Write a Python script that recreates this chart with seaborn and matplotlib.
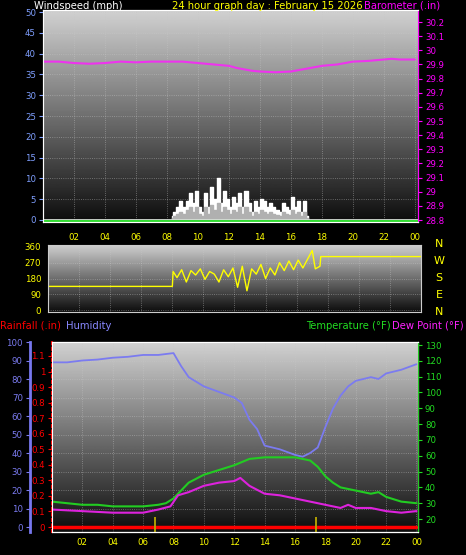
import numpy as np
import pandas as pd
import matplotlib
matplotlib.use("Agg")
import matplotlib.pyplot as plt
import seaborn as sns

sns.set_style("dark")
plt.rcParams['font.family'] = ['DejaVu Sans']

# ---- data (hours of day) ----
baro_hours = [0, 1, 2, 3, 4, 5, 6, 7, 8, 9, 10, 11, 12, 12.5, 13, 13.5, 14, 15, 16, 16.5, 17, 18, 19, 20, 21, 22, 22.5, 23, 24]
baro_vals = [29.92, 29.92, 29.91, 29.905, 29.91, 29.92, 29.915, 29.92, 29.92, 29.92, 29.91, 29.90, 29.89, 29.875, 29.865,
             29.855, 29.85, 29.845, 29.85, 29.86, 29.87, 29.89, 29.90, 29.92, 29.925, 29.935, 29.94, 29.935, 29.935]

wind_hours = [8.3, 8.5, 8.7, 8.9, 9.1, 9.3, 9.5, 9.7, 9.9, 10.1, 10.3, 10.5, 10.7, 10.9, 11.1, 11.3, 11.5, 11.7, 11.9,
              12.1, 12.3, 12.5, 12.7, 12.9, 13.1, 13.3, 13.5, 13.7, 13.9, 14.1, 14.3, 14.5, 14.7, 14.9, 15.1, 15.3,
              15.5, 15.7, 15.9, 16.1, 16.3, 16.5, 16.7, 16.9, 17.1]
wind_gust = [1, 2, 3, 4.5, 3, 4.5, 6.5, 4, 7, 3, 2, 6.5, 3, 8, 5, 10, 4, 7, 5, 3, 5.5, 4, 6.5, 3, 7, 4, 2, 4.5, 3,
             5, 4.5, 3, 4, 3, 2.5, 2, 4, 3, 2.5, 5.5, 3, 4.5, 2, 4.5, 1]
wind_avg = [0.5, 1, 1.5, 2, 1.5, 2.5, 3, 2, 3, 1.5, 1, 3, 1.5, 3.5, 2.5, 4, 2, 3, 2.5, 1.5, 2.5, 2, 3, 1.5, 3,
            2, 1, 2, 1.5, 2.5, 2, 1.5, 2, 1.5, 1.2, 1, 2, 1.5, 1.2, 2.5, 1.5, 2, 1, 2, 0.5]

dir_hours = [0, 8.0, 8.05, 8.3, 8.6, 8.9, 9.2, 9.5, 9.8, 10.1, 10.4, 10.7, 11.0, 11.3, 11.6, 11.9, 12.2, 12.5, 12.8,
             13.1, 13.4, 13.7, 14.0, 14.3, 14.6, 14.9, 15.2, 15.5, 15.8, 16.1, 16.4, 16.7, 17.0, 17.2, 17.5, 17.55, 24]
dir_vals = [135, 135, 220, 185, 230, 160, 225, 200, 235, 175, 220, 205, 160, 230, 190, 240, 130, 250, 110, 235,
            205, 260, 180, 240, 200, 270, 225, 280, 230, 285, 240, 290, 340, 235, 250, 305, 305]

hum_hours = [0, 1, 2, 3, 4, 5, 6, 7, 7.5, 8, 8.5, 9, 10, 11, 12, 12.5, 13, 13.5, 14, 15, 16, 16.5, 17, 17.5, 18, 18.5,
             19, 19.5, 20, 21, 21.5, 22, 23, 24]
hum_vals = [89, 89, 90, 90.5, 91.5, 92, 93, 93, 93.5, 94, 87, 81, 76, 73, 70, 67, 58, 53, 44, 42, 39, 38, 40, 43,
            54, 64, 71, 76, 79, 81, 80, 83, 85, 88]

temp_hours = [0, 1, 2, 3, 4, 5, 6, 7, 7.5, 8, 8.5, 9, 10, 11, 12, 13, 14, 15, 16, 16.5, 17, 17.5, 18, 18.5, 19, 20,
              21, 21.5, 22, 23, 24]
temp_vals = [31, 30, 29, 29, 28, 28, 28, 29, 30, 33, 38, 43, 48, 51, 54, 58, 59, 59, 59, 58, 57, 53, 47, 43, 40,
             38, 36, 37, 34, 31, 30]

dew_hours = [0, 2, 4, 6, 7, 7.8, 8.3, 9, 10, 11, 12, 12.4, 13, 14, 15, 16, 17, 18, 19, 19.5, 20, 21, 22, 23, 24]
dew_vals = [26, 25, 24, 24, 26, 28, 35, 37, 41, 43, 44, 46, 41, 36, 35, 33, 31, 29, 27, 29, 27, 27, 25, 24, 25]

rain_hours = [0, 24]
rain_vals = [0, 0]
mark_hours = [6.8, 17.4]

hour_ticks = list(range(2, 25, 2))
hour_labels = ["%02d" % (h % 24) for h in hour_ticks]

W, H = 466, 555
fig = plt.figure(figsize=(W / 100, H / 100), dpi=100, facecolor="black")


def px_axes(left, top, right, bottom):
    return fig.add_axes([left / W, 1 - bottom / H, (right - left) / W, (bottom - top) / H])


grad = np.linspace(0.05, 0.82, 256).reshape(-1, 1)


def style_panel(ax):
    ax.imshow(grad, cmap="gray", vmin=0, vmax=1, aspect="auto", extent=[0, 1, 0, 1],
              transform=ax.transAxes, origin="lower", zorder=0)
    ax.set_facecolor("black")
    ax.grid(True, color="#c8c8c8", linestyle=":", linewidth=0.6, alpha=0.55)
    for s in ax.spines.values():
        s.set_color("#cccccc")


fs = 6.2

# ---- top panel: wind + barometer ----
ax1 = px_axes(43, 10, 418, 222)
style_panel(ax1)
ax1.set_xlim(0, 24.2)
ax1.set_ylim(-0.5, 50.5)
ax1.fill_between(wind_hours, wind_gust, step="mid", color="white", zorder=2)
ax1.fill_between(wind_hours, wind_avg, step="mid", color="#b0b0b0", zorder=3)
ax1.axhline(0, color="#dddddd", lw=2, zorder=3)
ax1.axhline(-0.35, color="#33dd33", lw=1.5, zorder=4)
ax1.set_yticks(range(0, 51, 5))
ax1.set_xticks(hour_ticks)
ax1.set_xticklabels(hour_labels)
ax1.tick_params(axis="y", colors="#7f9fff", labelsize=fs, length=3, pad=2)
ax1.tick_params(axis="x", colors="#ffff00", labelsize=fs, length=0, pad=8)
ax1.set_xlabel("")
ax1.set_ylabel("")

ax1b = ax1.twinx()
ax1b.set_ylim(28.786, 30.285)
sns.lineplot(x=baro_hours, y=baro_vals, ax=ax1b, color="#ee33ee", lw=1.5)
ax1b.set_yticks(np.round(np.arange(28.8, 30.21, 0.1), 1))
ax1b.set_yticklabels([("%g" % v) for v in np.round(np.arange(28.8, 30.21, 0.1), 1)])
ax1b.tick_params(axis="y", colors="#ff00ff", labelsize=fs, length=3, pad=2)
ax1b.spines["right"].set_color("#ff00ff")
ax1b.grid(False)

fig.text(34 / W, 1 - 6 / H, "Windspeed (mph)", color="white", fontsize=7.2, ha="left", va="center")
fig.text(172 / W, 1 - 6 / H, "24 hour graph day : February 15 2026", color="yellow", fontsize=7.2, ha="left", va="center")
fig.text(440 / W, 1 - 6 / H, "Barometer (.in)", color="#ff00ff", fontsize=7.2, ha="right", va="center")

# ---- middle panel: wind direction ----
ax2 = px_axes(48, 245, 421, 312)
style_panel(ax2)
ax2.set_xlim(0, 24)
ax2.set_ylim(-11, 371)
sns.lineplot(x=dir_hours, y=dir_vals, ax=ax2, color="#ffff00", lw=1)
ax2.set_yticks([0, 90, 180, 270, 360])
ax2.set_xticks(hour_ticks)
ax2.set_xticklabels([])
ax2.tick_params(axis="y", colors="#ffff00", labelsize=fs, length=3, pad=2)
ax2.tick_params(axis="x", length=0)
ax2.set_xlabel("")
ax2.set_ylabel("")
for lab, yp in zip(["N", "W", "S", "E", "N"], [244, 261, 278, 295, 312]):
    fig.text(439 / W, 1 - yp / H, lab, color="yellow", fontsize=8, ha="center", va="center")

fig.text(0, 1 - 326 / H, "Rainfall (.in)", color="red", fontsize=7.2, ha="left", va="center")
fig.text(66 / W, 1 - 326 / H, "Humidity", color="#8888ff", fontsize=7.2, ha="left", va="center")
fig.text(391 / W, 1 - 326 / H, "Temperature (°F)", color="#22dd22", fontsize=7.2, ha="right", va="center")
fig.text(464 / W, 1 - 326 / H, "Dew Point (°F)", color="#ff22ff", fontsize=7.2, ha="right", va="center")

# ---- bottom panel ----
ax3 = px_axes(52, 342, 418, 532)
style_panel(ax3)
ax3.set_xlim(0, 24.1)
ax3.set_ylim(-2.7, 100)
ax3.spines["left"].set_position(("outward", 16))
ax3.spines["left"].set_color("#7777ee")
ax3.spines["left"].set_linewidth(2)
sns.lineplot(x=hum_hours, y=hum_vals, ax=ax3, color="#7b7bf0", lw=1.3)
ax3.set_yticks(range(0, 101, 10))
ax3.set_xticks(hour_ticks)
ax3.set_xticklabels(hour_labels)
ax3.tick_params(axis="y", colors="#7b7bf0", labelsize=fs, length=3, pad=2)
ax3.tick_params(axis="x", colors="#ffff00", labelsize=fs, length=0, pad=4)
ax3.set_xlabel("")
ax3.set_ylabel("")

ax3r = ax3.twinx()
ax3r.set_ylim(-0.032, 1.19)
ax3r.yaxis.set_label_position("left")
ax3r.yaxis.tick_left()
ax3r.spines["left"].set_color("red")
ax3r.spines["left"].set_linewidth(1.5)
ax3r.spines["left"].set_linestyle(":")
sns.lineplot(x=rain_hours, y=rain_vals, ax=ax3r, color="red", lw=2.5)
ax3r.vlines(mark_hours, -0.032, 0.065, color="#bbaa00", lw=1.3)
ax3r.set_yticks(np.round(np.arange(0, 1.15, 0.1), 1))
ax3r.set_yticklabels(["%g" % v for v in np.round(np.arange(0, 1.15, 0.1), 1)])
ax3r.tick_params(axis="y", colors="red", labelsize=fs, length=3, pad=2)
ax3r.grid(False)

ax3t = ax3.twinx()
ax3t.set_ylim(11.8, 131.9)
sns.lineplot(x=temp_hours, y=temp_vals, ax=ax3t, color="#22cc22", lw=1.5)
sns.lineplot(x=dew_hours, y=dew_vals, ax=ax3t, color="#dd22dd", lw=1.5)
ax3t.set_yticks(range(20, 131, 10))
ax3t.tick_params(axis="y", colors="#22dd22", labelsize=fs, length=3, pad=2)
ax3t.spines["right"].set_color("#22cc22")
ax3t.grid(False)
for a in (ax3r, ax3t, ax1b):
    a.set_xlabel("")
    a.set_ylabel("")

fig.savefig("out.png", dpi=100, facecolor="black")
